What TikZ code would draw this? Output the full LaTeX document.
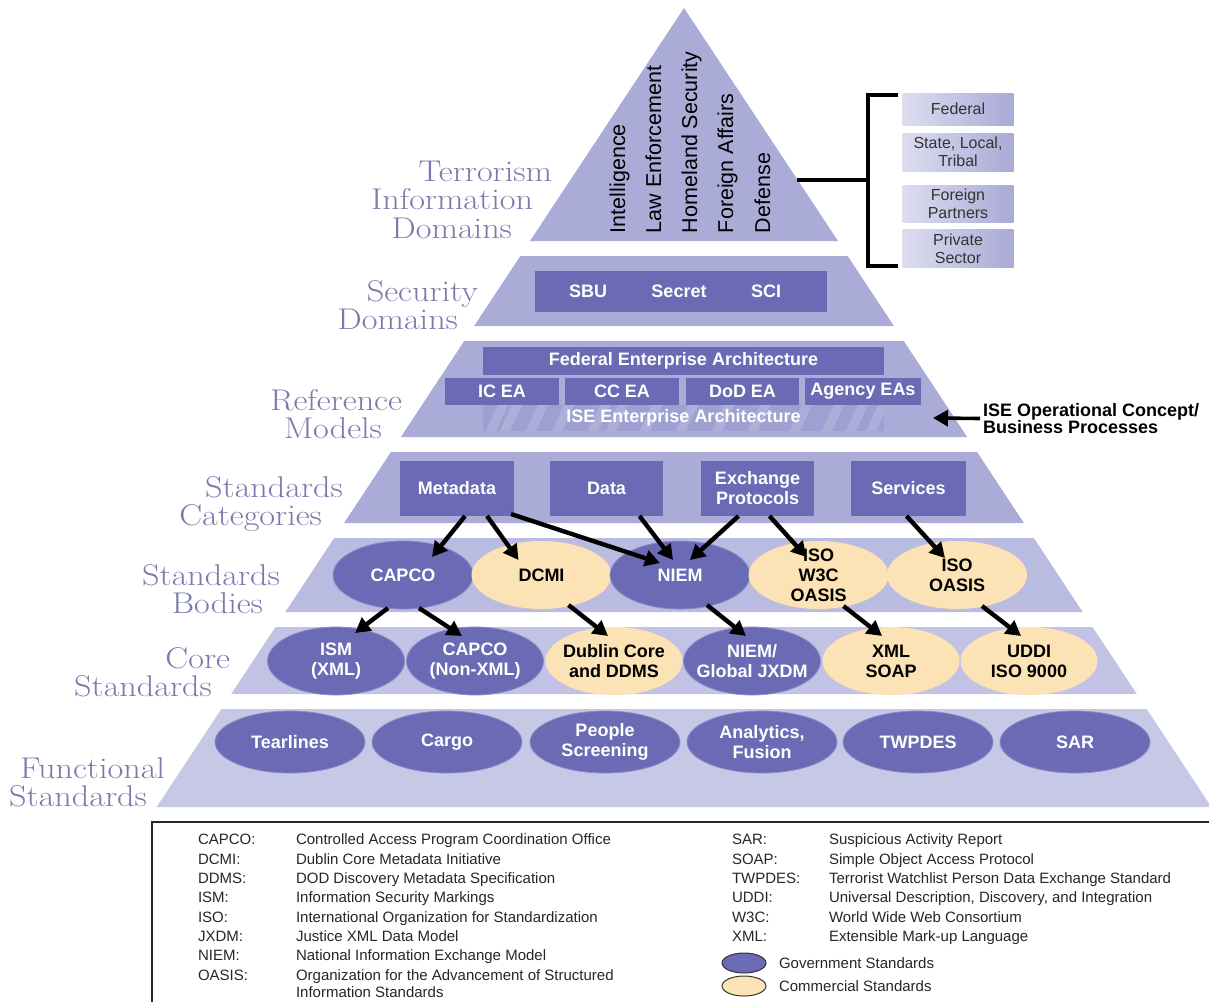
\documentclass[tikz,border=0pt]{standalone}
\usepackage{fontspec}
\newfontfamily\arial{Liberation Sans}
\usetikzlibrary{arrows.meta,shapes.geometric,calc}
\definecolor{layA}{HTML}{AAABD6}
\definecolor{layB}{HTML}{BABBE0}
\definecolor{layC}{HTML}{C2C3E4}
\definecolor{layD}{HTML}{C7C8E6}
\definecolor{govb}{HTML}{6A6BB4}
\definecolor{gove}{HTML}{8A8BC8}
\definecolor{comy}{HTML}{FBE3B5}
\definecolor{labc}{HTML}{7A7BAC}
\definecolor{rbl}{HTML}{DDDDF0}
\definecolor{rbr}{HTML}{A9AAD6}
\definecolor{isec}{HTML}{9FA0D2}
\newcommand\layer[3]{\fill[#3] ({684-0.66*(#1-8)},#1) -- ({684+0.66*(#1-8)},#1) -- ({684+0.66*(#2-8)},#2) -- ({684-0.66*(#2-8)},#2) -- cycle;}
\newcommand\lw[1]{\scalebox{1.14}[1]{#1}}
\begin{document}
\begin{tikzpicture}[x=1pt,y=-1pt,
  every node/.style={inner sep=0,outer sep=0},
  lay/.style={font=\fontsize{30}{32}\selectfont,text=labc,anchor=base east},
  vtxt/.style={rotate=90,anchor=base west,font=\arial\fontsize{21.5}{22}\selectfont},
  wlab/.style={font=\arial\bfseries\fontsize{18}{20}\selectfont,text=white,align=center},
  blab/.style={font=\arial\bfseries\fontsize{18}{20}\selectfont,text=black,align=center},
  gbox/.style={rectangle,fill=govb},
  gov/.style={ellipse,fill=govb,draw=gove,line width=0.8},
  com/.style={ellipse,fill=comy},
  bodyE/.style={minimum width=140,minimum height=68},
  coreE/.style={minimum width=137,minimum height=68},
  funE/.style={minimum width=150,minimum height=62},
  rbox/.style={rectangle,left color=rbl,right color=rbr,minimum width=111,
     font=\arial\fontsize{16}{18}\selectfont,text=black!80,align=center},
  arr/.style={line width=4.4,-{Triangle[length=15pt,width=16pt]}},
  lgt/.style={font=\arial\fontsize{15}{17}\selectfont,text=black!85,anchor=base west}]
\useasboundingbox (0,0) rectangle (1209,1001);

% ---------- pyramid layers
\fill[layA] (684,8) -- (838,241) -- (530,241) -- cycle;
\layer{256}{326}{layA}
\layer{341}{437}{layA}
\layer{452}{523}{layA}
\layer{538}{612}{layB}
\layer{627}{694}{layC}
\layer{709}{807}{layD}

% ---------- layer labels
\node[lay] (l1a) at (552,181) {\lw{Terrorism}};
\node[lay] (l1b) at (533,209) {\lw{Information}};
\node[lay] (l1c) at (512,238) {\lw{Domains}};
\node[lay] (l2a) at (478,301) {\lw{Security}};
\node[lay] (l2b) at (458,329) {\lw{Domains}};
\node[lay] (l3a) at (402,410) {\lw{Reference}};
\node[lay] (l3b) at (382,438) {\lw{Models}};
\node[lay] (l4a) at (343,497) {\lw{Standards}};
\node[lay] (l4b) at (322,525) {\lw{Categories}};
\node[lay] (l5a) at (280,585) {\lw{Standards}};
\node[lay] (l5b) at (263,613) {\lw{Bodies}};
\node[lay] (l6a) at (230,668) {\lw{Core}};
\node[lay] (l6b) at (212,696) {\lw{Standards}};
\node[lay] (l7a) at (165,778) {\lw{Functional}};
\node[lay] (l7b) at (147,806) {\lw{Standards}};

% ---------- top triangle text
\node[vtxt] (intel) at (625,233) {Intelligence};
\node[vtxt] (law)   at (661,233) {Law Enforcement};
\node[vtxt] (home)  at (697,233) {Homeland Security};
\node[vtxt] (fora)  at (733,233) {Foreign Affairs};
\node[vtxt] (def)   at (770,233) {Defense};

% ---------- right boxes and bracket
\node[rbox,minimum height=32] (fed) at (958,109) {Federal};
\node[rbox,minimum height=38] (slt) at (958,152) {State, Local,\\Tribal};
\node[rbox,minimum height=37] (fp)  at (958,203.5) {Foreign\\Partners};
\node[rbox,minimum height=38] (ps)  at (958,248.5) {Private\\Sector};
\coordinate (tri) at (797,180);
\coordinate (brm) at (868,180);
\coordinate (brt) at (898,95);
\coordinate (brb) at (898,266);
\draw[line width=4] (brt) -| (brm) |- (brb);
\draw[line width=4] (tri) -- (brm);

% ---------- security domains
\node[gbox,minimum width=292,minimum height=41] (secbox) at (681,291.5) {};
\node[wlab] (sbu) at (588,291.5) {SBU};
\node[wlab] (secr) at (679,291.5) {Secret};
\node[wlab] (sci) at (766,291.5) {SCI};

% ---------- reference models
\node[gbox,minimum width=401,minimum height=28] (fea) at (683.5,361) {};
\node[wlab] (feat) at (fea) {Federal Enterprise Architecture};
\node[gbox,minimum width=114,minimum height=27] (icea) at (502,391.5) {};
\node[gbox,minimum width=114,minimum height=27] (ccea) at (622,391.5) {};
\node[gbox,minimum width=113,minimum height=27] (dodea) at (742.5,391.5) {};
\node[gbox,minimum width=116,minimum height=27] (agea) at (863,391.5) {};
\node[wlab] (iceat) at (icea) {IC EA};
\node[wlab] (cceat) at (ccea) {CC EA};
\node[wlab] (dodeat) at (dodea) {DoD EA};
\node[wlab] (ageat) at (agea) {Agency EAs};
\node[rectangle,fill=isec,minimum width=401,minimum height=26] (ise) at (683.5,418) {};
\begin{scope}
\clip (483,405) rectangle (884,431);
\foreach \s in {486,500,526,552,588,606,640,676,712,748,790,822,846,866}
  \fill[white,opacity=0.16] (\s,431) -- ({\s+10},431) -- ({\s+22},405) -- ({\s+12},405) -- cycle;
\end{scope}
\node[wlab] (iset) at (ise) {ISE Enterprise Architecture};
\node[font=\arial\bfseries\fontsize{18}{17.5}\selectfont,align=left,anchor=west] (opc) at (983,418.5) {ISE Operational Concept/\\Business Processes};
\coordinate (refedge) at (933,418);
\draw[arr,line width=3.6] ([xshift=-3]opc.west) -- (refedge);

% ---------- standards categories
\node[gbox,minimum width=114,minimum height=55] (meta) at (457,488.5) {};
\node[gbox,minimum width=113,minimum height=55] (data) at (606.5,488.5) {};
\node[gbox,minimum width=113,minimum height=55] (exch) at (757.5,488.5) {};
\node[gbox,minimum width=115,minimum height=55] (serv) at (908.5,488.5) {};
\node[wlab] (metat) at (meta) {Metadata};
\node[wlab] (datat) at (data) {Data};
\node[wlab] (excht) at (exch) {Exchange\\Protocols};
\node[wlab] (servt) at (serv) {Services};

% ---------- standards bodies
\node[gov,bodyE] (capco) at (403,575) {};
\node[com,bodyE] (dcmi)  at (541.5,575) {};
\node[gov,bodyE] (niem)  at (680,575) {};
\node[com,bodyE] (isow)  at (818.5,575) {};
\node[com,bodyE] (isoo)  at (957,575) {};
\node[wlab] (capcot) at (capco) {CAPCO};
\node[blab] (dcmit) at (dcmi) {DCMI};
\node[wlab] (niemt) at (niem) {NIEM};
\node[blab] (isowt) at (isow) {ISO\\W3C\\OASIS};
\node[blab] (isoot) at (isoo) {ISO\\OASIS};

% ---------- core standards
\node[gov,coreE] (ism)   at (336,661) {};
\node[gov,coreE] (capnx) at (475,661) {};
\node[com,coreE] (dub)   at (614,661) {};
\node[gov,coreE] (jxdm)  at (752,661) {};
\node[com,coreE] (xml)   at (891,661) {};
\node[com,coreE] (uddi)  at (1029,661) {};
\node[wlab] (ismt) at (ism) {ISM\\(XML)};
\node[wlab] (capnxt) at (capnx) {CAPCO\\(Non-XML)};
\node[blab] (dubt) at (dub) {Dublin Core\\and DDMS};
\node[wlab] (jxdmt) at (jxdm) {NIEM/\\Global JXDM};
\node[blab] (xmlt) at (xml) {XML\\SOAP};
\node[blab] (uddit) at (uddi) {UDDI\\ISO 9000};

% ---------- functional standards
\node[gov,funE] (tear)  at (290,742) {};
\node[gov,funE] (cargo) at (447,742) {};
\node[gov,funE] (peop)  at (605,742) {};
\node[gov,funE] (anal)  at (762,742) {};
\node[gov,funE] (twp)   at (918,742) {};
\node[gov,funE] (sar)   at (1075,742) {};
\node[wlab] (teart) at (tear) {Tearlines};
\node[wlab] (cargot) at (cargo) {Cargo};
\node[wlab] (peopt) at (peop) {People\\Screening};
\node[wlab] (analt) at (anal) {Analytics,\\Fusion};
\node[wlab] (twpt) at (twp) {TWPDES};
\node[wlab] (sart) at (sar) {SAR};

% ---------- arrows
\draw[arr] ([xshift=8]meta.south) -- ([xshift=29,yshift=18]capco.center);
\draw[arr] ([xshift=30]meta.south) -- ([xshift=-23,yshift=15]dcmi.center);
\draw[arr] ([xshift=-3,yshift=2]meta.south east) -- ([xshift=-20,yshift=12]niem.center);
\draw[arr] ([xshift=33]data.south) -- ([xshift=-7,yshift=15]niem.center);
\draw[arr] ([xshift=-19]exch.south) -- ([xshift=10,yshift=15]niem.center);
\draw[arr] ([xshift=12]exch.south) -- ([xshift=-12,yshift=18]isow.center);
\draw[arr] ([xshift=-2]serv.south) -- ([xshift=-12,yshift=17]isoo.center);
\draw[arr] ([xshift=-15,yshift=-33]capco.center) -- ([xshift=19,yshift=28]ism.center);
\draw[arr] ([xshift=16,yshift=-33]capco.center) -- ([xshift=-13,yshift=25]capnx.center);
\draw[arr] ([xshift=27,yshift=-30]dcmi.center) -- ([xshift=-6,yshift=25]dub.center);
\draw[arr] ([xshift=27,yshift=-30]niem.center) -- ([xshift=-6,yshift=25]jxdm.center);
\draw[arr] ([xshift=25,yshift=-31]isow.center) -- ([xshift=-9,yshift=25]xml.center);
\draw[arr] ([xshift=25,yshift=-31]isoo.center) -- ([xshift=-8,yshift=25]uddi.center);

% ---------- legend
\draw[line width=2,draw=black!85] (1215,822) -- (152,822) -- (152,1010);
\node[lgt] (a1) at (198,844.5) {CAPCO:};
\node[lgt] (a2) at (198,864) {DCMI:};
\node[lgt] (a3) at (198,883.5) {DDMS:};
\node[lgt] (a4) at (198,902.5) {ISM:};
\node[lgt] (a5) at (198,922) {ISO:};
\node[lgt] (a6) at (198,941.5) {JXDM:};
\node[lgt] (a7) at (198,960.5) {NIEM:};
\node[lgt] (a8) at (198,980) {OASIS:};
\node[lgt] (d1) at (296,844.5) {Controlled Access Program Coordination Office};
\node[lgt] (d2) at (296,864) {Dublin Core Metadata Initiative};
\node[lgt] (d3) at (296,883.5) {DOD Discovery Metadata Specification};
\node[lgt] (d4) at (296,902.5) {Information Security Markings};
\node[lgt] (d5) at (296,922) {International Organization for Standardization};
\node[lgt] (d6) at (296,941.5) {Justice XML Data Model};
\node[lgt] (d7) at (296,960.5) {National Information Exchange Model};
\node[lgt] (d8) at (296,980) {Organization for the Advancement of Structured};
\node[lgt] (d9) at (296,997.5) {Information Standards};
\node[lgt] (b1) at (732,844.5) {SAR:};
\node[lgt] (b2) at (732,864) {SOAP:};
\node[lgt] (b3) at (732,883.5) {TWPDES:};
\node[lgt] (b4) at (732,902.5) {UDDI:};
\node[lgt] (b5) at (732,922) {W3C:};
\node[lgt] (b6) at (732,941.5) {XML:};
\node[lgt] (e1) at (829,844.5) {Suspicious Activity Report};
\node[lgt] (e2) at (829,864) {Simple Object Access Protocol};
\node[lgt] (e3) at (829,883.5) {Terrorist Watchlist Person Data Exchange Standard};
\node[lgt] (e4) at (829,902.5) {Universal Description, Discovery, and Integration};
\node[lgt] (e5) at (829,922) {World Wide Web Consortium};
\node[lgt] (e6) at (829,941.5) {Extensible Mark-up Language};
\node[ellipse,fill=govb,draw=black!80,line width=1,minimum width=44,minimum height=20] (lgov) at (744,963) {};
\node[ellipse,fill=comy,draw=black!80,line width=1,minimum width=44,minimum height=20] (lcom) at (744,986) {};
\node[lgt] (g1) at (779,968.5) {Government Standards};
\node[lgt] (g2) at (779,991.5) {Commercial Standards};
\end{tikzpicture}
\end{document}
